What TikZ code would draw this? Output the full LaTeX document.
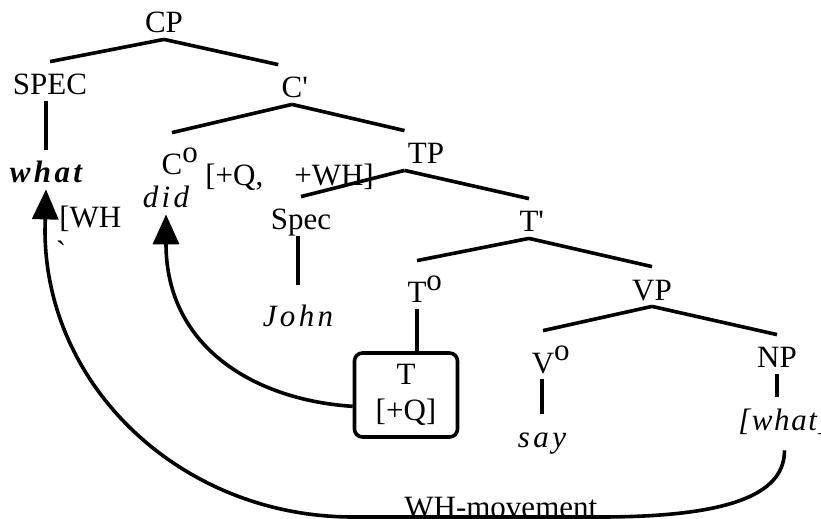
\documentclass[tikz,border=0pt]{standalone}
\usepackage{fontspec}
\setmainfont{Liberation Serif}
\newfontfamily\gapfont[LetterSpace=11]{Liberation Serif}
\newfontfamily\tightgapfont[LetterSpace=5]{Liberation Serif}
\usetikzlibrary{arrows.meta, calc}
\newcommand\headz[1]{#1\rlap{\raisebox{6pt}{o}}}

\begin{document}
\begin{tikzpicture}[
    x=0.5pt, y=-0.5pt,
    every node/.style={font=\fontsize{15.5pt}{18pt}\selectfont},
    lbl/.style={anchor=base, text height=13.5pt, text depth=0pt,
      inner xsep=1.5pt, inner ysep=3pt},
    head/.style={lbl, text height=18pt},
    word/.style={lbl, font=\fontsize{15.5pt}{18pt}\selectfont\gapfont\itshape},
    branch/.style={line width=1.8pt},
    move/.style={line width=1.8pt, -{Triangle[length=15pt, width=13pt]}},
  ]
  \useasboundingbox (0,0) rectangle (821,519);

  \node[lbl] (cp) at (164,33) {CP};
  \node[lbl] (spec) at (50,95) {SPEC};
  \node[lbl] (cbar) at (292,98) {C\rlap{\textquotesingle}};
  \node[word] (what) at (46,183) {\bfseries what};
  \node[head] (czero) at (172,175) {\headz{C}};
  \node[lbl, anchor=base west] (feat) at (202,186) {[+Q,\quad+WH]};
  \node[word] (did) at (166,208) {did};
  \node[lbl] (tp) at (426,164) {TP};
  \node[lbl, anchor=base west] (whfeat) at (56,228) {[WH};
  \node[lbl] (whtick) at (61,263) {\textasciigrave};
  \node[lbl] (specb) at (301,230) {Spec};
  \node[lbl] (tbar) at (529,232) {T\rlap{\textquotesingle}};
  \node[word, text height=18pt] (john) at (298,327) {John};
  \node[head] (tzero) at (417,303) {\headz{T}};
  \node[lbl] (vp) at (652,300) {VP};
  \node[draw, line width=1.8pt, rounded corners=4pt, inner sep=0pt,
    minimum width=51.5pt, minimum height=42pt, align=center,
  ] (tq) at (406,395) {T\\{}[+Q]};
  \node[head] (vzero) at (543,373) {\headz{V}};
  \node[lbl] (np) at (777,368) {NP};
  \node[word] (say) at (542,447) {say};
  \node[word, font=\fontsize{15.5pt}{18pt}\selectfont\tightgapfont\itshape,
    anchor=base west] (npw) at (735,430) {[what]};
  \node[lbl, anchor=base west] (whlbl) at (401,517) {WH-movement};

  \draw[branch] (cp.south) -- (spec.north);
  \draw[branch] (cp.south) -- (cbar.north west);
  \draw[branch] (what.north |- spec.south) -- (what.north);
  \draw[branch] (cbar.south) -- (czero.north);
  \draw[branch] (cbar.south) -- (tp.north west);
  \draw[branch] (tp.south west) -- (specb.north);
  \draw[branch] (tp.south west) -- (tbar.north);
  \draw[branch] (john.north |- specb.south) -- (john.north);
  \draw[branch] (tbar.south) -- (tzero.north);
  \draw[branch] (tbar.south) -- (vp.north);
  \draw[branch] (tzero.south) -- (tzero.south |- tq.north);
  \draw[branch] (vp.south) -- (vzero.north);
  \draw[branch] (vp.south) -- (np.north);
  \draw[branch] (say.north |- vzero.south) -- (say.north);
  \draw[branch] (np.south) -- (np.south |- npw.north);

  \draw[move] (tq.192) .. controls +(-95,-6) and +(0,135) .. (did.south);
  \coordinate (wh0) at ([yshift=-7pt]npw.south);
  \draw[move] (wh0) .. controls +(0,40) and (740,517) .. (600,517)
    -- (353,517) .. controls (183,517) and (45,388) .. (45,230) -- (what.south);
\end{tikzpicture}
\end{document}
